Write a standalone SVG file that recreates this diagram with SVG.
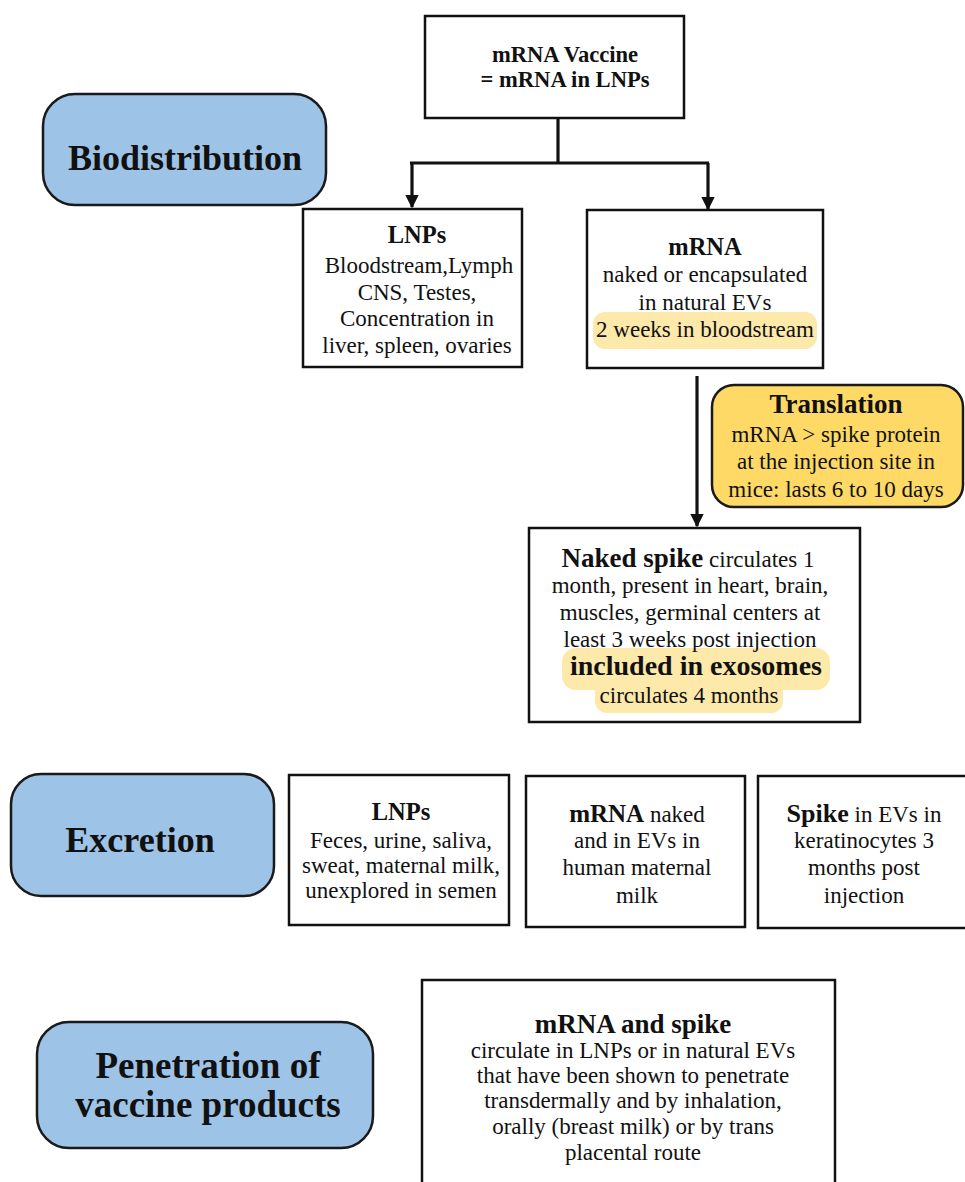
<svg xmlns="http://www.w3.org/2000/svg" width="965" height="1182" viewBox="0 0 965 1182">
<style>
text{font-family:"Liberation Serif","DejaVu Serif",serif;fill:#111;text-anchor:middle}
.box{fill:#fff;stroke:#111;stroke-width:2.5}
.pill{fill:#9DC3E6;stroke:#1a1a1a;stroke-width:2.5}
.gold{fill:#FFD966;stroke:#1a1a1a;stroke-width:2.5}
.hl{fill:#FDE9AA}
.sec{font-size:36px;font-weight:bold}
.h{font-size:24.5px;font-weight:bold}
.hb{font-size:27px;font-weight:bold}
.b{font-size:23px;font-weight:normal}
.conn{fill:none;stroke:#111;stroke-width:3.2}
</style>
<defs>
<marker id="arr" viewBox="0 0 10 10" refX="9" refY="5" markerWidth="4.2" markerHeight="4.2" markerUnits="strokeWidth" orient="auto">
<path d="M0,0 L10,5 L0,10 z" fill="#111"/>
</marker>
</defs>
<rect width="965" height="1182" fill="#fff"/>

<g id="connectors">
<path class="conn" d="M558,118 V163"/>
<path class="conn" d="M410,163 H709"/>
<path class="conn" d="M412,163 V207" marker-end="url(#arr)"/>
<path class="conn" d="M708,163 V209" marker-end="url(#arr)"/>
<path class="conn" d="M697,376 V526" marker-end="url(#arr)"/>
</g>

<g id="vaccine">
<rect class="box" x="425" y="16" width="259" height="102"/>
<text x="565" y="62" style="font-size:22.6px;font-weight:bold">mRNA Vaccine</text>
<text x="565" y="87" style="font-size:22.6px;font-weight:bold">= mRNA in LNPs</text>
</g>

<g id="biodistribution">
<rect class="pill" x="43" y="94" width="283" height="111" rx="32"/>
<text class="sec" x="185" y="170">Biodistribution</text>
</g>

<g id="lnps-bio">
<rect class="box" x="303" y="209" width="219" height="158"/>
<text class="h" x="417" y="243">LNPs</text>
<text class="b" x="419" y="273">Bloodstream,Lymph</text>
<text class="b" x="417" y="300">CNS, Testes,</text>
<text class="b" x="417" y="326">Concentration in</text>
<text class="b" x="417" y="353">liver, spleen, ovaries</text>
</g>

<g id="mrna-bio">
<rect class="box" x="587" y="210" width="236" height="158"/>
<rect class="hl" x="593" y="312" width="224" height="37" rx="12"/>
<text class="h" x="705" y="255">mRNA</text>
<text class="b" x="705" y="282">naked or encapsulated</text>
<text class="b" x="705" y="310">in natural EVs</text>
<text class="b" x="705" y="337">2 weeks in bloodstream</text>
</g>

<g id="translation">
<rect class="gold" x="712" y="385" width="251" height="122" rx="22"/>
<text class="hb" x="836" y="413">Translation</text>
<text class="b" x="836" y="442">mRNA &gt; spike protein</text>
<text class="b" x="836" y="469">at the injection site in</text>
<text class="b" x="836" y="497">mice: lasts 6 to 10 days</text>
</g>

<g id="naked-spike">
<rect class="box" x="529" y="528" width="331" height="194"/>
<rect class="hl" x="562" y="648" width="268" height="42" rx="14"/>
<rect class="hl" x="595" y="680" width="188" height="33" rx="12"/>
<text x="688" y="567"><tspan class="hb">Naked spike</tspan><tspan class="b"> circulates 1</tspan></text>
<text class="b" x="690" y="593">month, present in heart, brain,</text>
<text class="b" x="690" y="620">muscles, germinal centers at</text>
<text class="b" x="690" y="647">least 3 weeks post injection</text>
<text x="696" y="675" style="font-size:28px;font-weight:bold">included in exosomes</text>
<text class="b" x="689" y="703">circulates 4 months</text>
</g>

<g id="excretion">
<rect class="pill" x="11" y="774" width="263" height="122" rx="30"/>
<text class="sec" x="140" y="852">Excretion</text>
</g>

<g id="lnps-exc">
<rect class="box" x="289" y="775" width="220" height="150"/>
<text class="h" x="401" y="820">LNPs</text>
<text class="b" x="401" y="848">Feces, urine, saliva,</text>
<text class="b" x="401" y="873">sweat, maternal milk,</text>
<text class="b" x="401" y="898">unexplored in semen</text>
</g>

<g id="mrna-exc">
<rect class="box" x="526" y="776" width="219" height="151"/>
<text x="637" y="822"><tspan style="font-size:25px;font-weight:bold">mRNA</tspan><tspan class="b"> naked</tspan></text>
<text class="b" x="637" y="848">and in EVs in</text>
<text class="b" x="637" y="875">human maternal</text>
<text class="b" x="637" y="903">milk</text>
</g>

<g id="spike-exc">
<rect class="box" x="758" y="776" width="212" height="152"/>
<text x="864" y="822"><tspan style="font-size:26px;font-weight:bold">Spike</tspan><tspan class="b"> in EVs in</tspan></text>
<text class="b" x="864" y="848">keratinocytes 3</text>
<text class="b" x="864" y="875">months post</text>
<text class="b" x="864" y="903">injection</text>
</g>

<g id="penetration">
<rect class="pill" x="37" y="1022" width="336" height="126" rx="32"/>
<text x="208" y="1078" style="font-size:37px;font-weight:bold">Penetration of</text>
<text x="208" y="1117" style="font-size:37px;font-weight:bold">vaccine products</text>
</g>

<g id="mrna-spike">
<rect class="box" x="422" y="980" width="413" height="215"/>
<text class="hb" x="633" y="1033">mRNA and spike</text>
<text class="b" x="633" y="1058">circulate in LNPs or in natural EVs</text>
<text class="b" x="633" y="1083">that have been shown to penetrate</text>
<text class="b" x="633" y="1108">transdermally and by inhalation,</text>
<text class="b" x="633" y="1134">orally (breast milk) or by trans</text>
<text class="b" x="633" y="1160">placental route</text>
</g>
</svg>
